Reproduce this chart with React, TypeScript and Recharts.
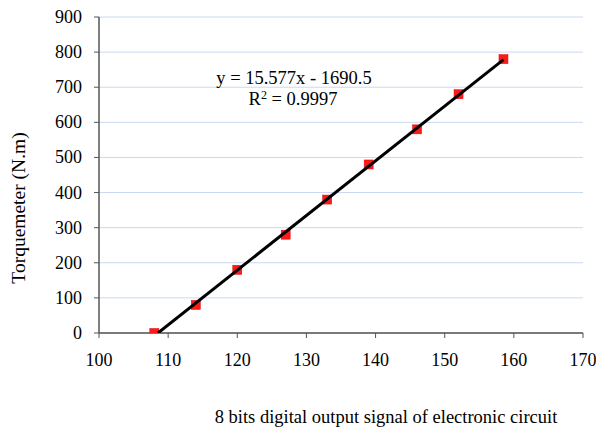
import { ScatterChart, Scatter, XAxis, YAxis, CartesianGrid } from "recharts";

// calibration points
const signalValues = [108, 114, 120, 127, 133, 139, 146, 152, 158.5];
const torqueValues = [0, 80, 180, 280, 380, 480, 580, 680, 780];

// trendline ends (clipped at y = 0 like the original)
const trendX = [108.53, 158.5];
const trendY = [0, 778.5];

const xTicks = [100, 110, 120, 130, 140, 150, 160, 170];
const yTicks = [0, 100, 200, 300, 400, 500, 600, 700, 800, 900];

const equationText = "y = 15.577x - 1690.5";
const r2Value = "0.9997";

const points = signalValues.map((x, i) => ({ x, y: torqueValues[i] }));
const trend = trendX.map((x, i) => ({ x, y: trendY[i] }));

const FONT = "Liberation Serif";
const tickStyle = { fontFamily: FONT, fontSize: 18 };
const textStyle = { fontFamily: FONT, fontSize: 18.5 };

const SquareMarker = (props: any) => {
    const { cx, cy } = props;
    if (cx == null || cy == null) return null;
    return <rect x={cx - 4.5} y={cy - 4.5} width={9} height={9} fill="#ff1a1a" stroke="#e00000" strokeWidth={0.5} />;
};

const NoMarker = () => <g />;

const XTick = ({ x, y, payload }: any) => (
    <text x={x} y={y + 13} textAnchor="middle" fill="#000" style={tickStyle}>{payload.value}</text>
);

const YTick = ({ x, y, payload }: any) => (
    <text x={x} y={y + 6} textAnchor="end" fill="#000" style={tickStyle}>{payload.value}</text>
);

export default function App() {
    return (
        <div style={{ position: "absolute", left: 0, top: 0, width: 596, height: 436, background: "#fff" }}>
            <ScatterChart width={596} height={436} margin={{ top: 17, right: 13, left: 39, bottom: 73 }}>
                <CartesianGrid horizontal vertical={false} stroke="#c9d9f2" strokeWidth={1} />
                <XAxis
                    type="number"
                    dataKey="x"
                    domain={[100, 170]}
                    ticks={xTicks}
                    allowDataOverflow
                    height={30}
                    tickSize={5}
                    tickMargin={15}
                    tick={<XTick />}
                    axisLine={{ stroke: "#555", strokeWidth: 1.5 }}
                    tickLine={{ stroke: "#555" }}
                />
                <XAxis xAxisId="top" orientation="top" type="number" domain={[100, 170]} height={0} tick={false} tickLine={false} axisLine={{ stroke: "#8c8c8c", strokeWidth: 1.5 }} />
                <YAxis
                    type="number"
                    dataKey="y"
                    domain={[0, 900]}
                    ticks={yTicks}
                    allowDataOverflow
                    width={60}
                    tickSize={5}
                    tickMargin={12}
                    tick={<YTick />}
                    axisLine={{ stroke: "#555", strokeWidth: 1.5 }}
                    tickLine={{ stroke: "#555" }}
                />
                <YAxis yAxisId="right" orientation="right" type="number" domain={[0, 900]} width={0} tick={false} tickLine={false} axisLine={{ stroke: "#8c8c8c", strokeWidth: 1.5 }} />
                <Scatter data={points} shape={<SquareMarker />} isAnimationActive={false} />
                <Scatter data={trend} line={{ stroke: "#000", strokeWidth: 3 }} shape={<NoMarker />} isAnimationActive={false} />
            </ScatterChart>
            <svg width={596} height={436} style={{ position: "absolute", left: 0, top: 0, pointerEvents: "none" }}>
                <g style={textStyle} fill="#000">
                    <text x={294} y={84} textAnchor="middle">{equationText}</text>
                    <text x={293} y={105} textAnchor="middle">
                        R<tspan dy={-6} fontSize={12}>2</tspan>
                        <tspan dy={6}> = {r2Value}</tspan>
                    </text>
                    <text x={386} y={423} textAnchor="middle">8 bits digital output signal of electronic circuit</text>
                    <text transform="translate(25, 208) rotate(-90)" textAnchor="middle" style={{ fontSize: 19.5 }}>Torquemeter (N.m)</text>
                </g>
            </svg>
        </div>
    );
}
